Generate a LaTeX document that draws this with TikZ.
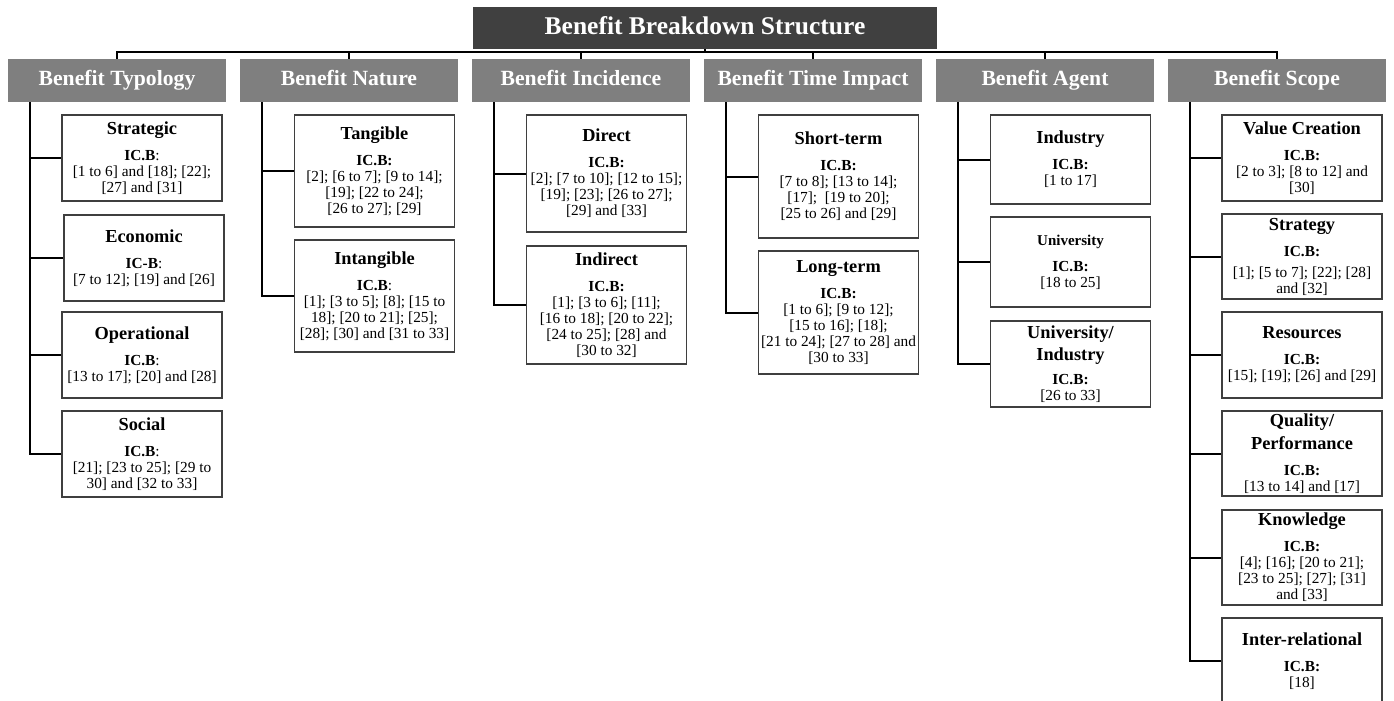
\documentclass[tikz,border=0pt]{standalone}
\usepackage{fontspec}
\setmainfont{Liberation Serif}

\definecolor{headgray}{HTML}{404040}
\definecolor{catgray}{HTML}{7F7F7F}
\definecolor{boxgray}{HTML}{3F3F3F}

\newcommand{\kt}[1]{{\fontsize{11}{12}\selectfont\bfseries #1}}
\newcommand{\icb}{\textbf{IC.B:}}
\newcommand{\icbc}{\textbf{IC.B}:}

\begin{document}
\begin{tikzpicture}[x=0.6pt,y=-0.6pt,
    head/.style={fill=headgray,text=white,font=\fontsize{15.3}{18}\selectfont\bfseries,
        minimum width=278.4pt,minimum height=25.2pt,inner sep=0pt,text height=10.5pt,text depth=3pt},
    cat/.style={fill=catgray,text=white,font=\fontsize{13}{15}\selectfont\bfseries,
        minimum width=130.8pt,minimum height=25.8pt,inner sep=0pt,text height=9pt,text depth=3pt},
    kid/.style={draw=boxgray,line width=1.1pt,align=center,font=\fontsize{9.2}{9.6}\selectfont,
        minimum width=96pt,minimum height=#1,inner sep=1pt},
    tie/.style={line width=1.2pt}]
    \useasboundingbox (0,0) rectangle (1394,700);

    \node[head] (bbs) at (705,28) {Benefit Breakdown Structure};

    \node[cat] (typ) at (117,80.5) {Benefit Typology};
    \node[cat] (nat) at (349,80.5) {Benefit Nature};
    \node[cat] (inc) at (581,80.5) {Benefit Incidence};
    \node[cat] (tim) at (813,80.5) {Benefit Time Impact};
    \node[cat] (age) at (1045,80.5) {Benefit Agent};
    \node[cat] (sco) at (1277,80.5) {Benefit Scope};

    % typology
    \node[kid=51.6pt] (strat) at (142,158) {\kt{Strategic}\\[6pt]\icbc\\\relax [1 to 6] and [18]; [22];\\\relax [27] and [31]};
    \node[kid=51.6pt] (econ) at (144,258) {\kt{Economic}\\[6pt]\textbf{IC-B}:\\\relax [7 to 12]; [19] and [26]};
    \node[kid=51.6pt] (oper) at (142,355) {\kt{Operational}\\[6pt]\icbc\\\relax [13 to 17]; [20] and [28]};
    \node[kid=51.6pt] (soc) at (142,454) {\kt{Social}\\[6pt]\icbc\\\relax [21]; [23 to 25]; [29 to\\ 30] and [32 to 33]};

    % nature
    \node[kid=67.2pt] (tang) at (374.5,171) {\kt{Tangible}\\[6pt]\icb\\\relax [2]; [6 to 7]; [9 to 14];\\\relax [19]; [22 to 24];\\\relax [26 to 27]; [29]};
    \node[kid=67.2pt] (intang) at (374.5,296) {\kt{Intangible}\\[6pt]\icbc\\\relax [1]; [3 to 5]; [8]; [15 to\\ 18]; [20 to 21]; [25];\\\relax [28]; [30] and [31 to 33]};

    % incidence
    \node[kid=70.2pt] (dir) at (606.5,173.5) {\kt{Direct}\\[6pt]\icb\\\relax [2]; [7 to 10]; [12 to 15];\\\relax [19]; [23]; [26 to 27];\\\relax [29] and [33]};
    \node[kid=70.8pt] (indir) at (606.5,305) {\kt{Indirect}\\[6pt]\icb\\\relax [1]; [3 to 6]; [11];\\\relax [16 to 18]; [20 to 22];\\\relax [24 to 25]; [28] and\\\relax [30 to 32]};

    % time impact
    \node[kid=73.8pt] (short) at (838.5,176.5) {\kt{Short-term}\\[6pt]\icb\\\relax [7 to 8]; [13 to 14];\\\relax [17];\ \ [19 to 20];\\\relax [25 to 26] and [29]};
    \node[kid=73.8pt] (long) at (838.5,312.5) {\kt{Long-term}\\[6pt]\icb\\\relax [1 to 6]; [9 to 12];\\\relax [15 to 16]; [18];\\\relax [21 to 24]; [27 to 28] and\\\relax [30 to 33]};

    % agent
    \node[kid=53.4pt] (ind) at (1070.5,159.5) {\kt{Industry}\\[6pt]\icb\\\relax [1 to 17]};
    \node[kid=54pt] (uni) at (1070.5,262) {{\fontsize{9}{10}\selectfont\bfseries University}\\[6pt]\icb\\\relax [18 to 25]};
    \node[kid=51.6pt] (uniind) at (1070.5,364) {\kt{University/}\\[2pt]\kt{Industry}\\[5pt]\icb\\\relax [26 to 33]};

    % scope
    \node[kid=51.6pt] (val) at (1302,158) {\kt{Value Creation}\\[6pt]\icb\\\relax [2 to 3]; [8 to 12] and\\\relax [30]};
    \node[kid=51pt] (strg) at (1302,256.5) {\kt{Strategy}\\[6pt]\icb\\[3pt]\relax [1]; [5 to 7]; [22]; [28]\\ and [32]};
    \node[kid=51.6pt] (res) at (1302,355) {\kt{Resources}\\[6pt]\icb\\\relax [15]; [19]; [26] and [29]};
    \node[kid=51pt] (qual) at (1302,453.5) {\kt{Quality/}\\[3pt]\kt{Performance}\\[6pt]\icb\\\relax [13 to 14] and [17]};
    \node[kid=57pt] (know) at (1302,557.5) {\kt{Knowledge}\\[6pt]\icb\\\relax [4]; [16]; [20 to 21];\\\relax [23 to 25]; [27]; [31]\\ and [33]};
    \node[kid=51.6pt] (inter) at (1302,661) {\kt{Inter-relational}\\[6pt]\icb\\\relax [18]};

    % bus
    \coordinate (bus) at (705,52);
    \draw[tie] (bbs) -- (bus);
    \foreach \c in {typ,nat,inc,tim,age,sco}
        \draw[tie] (bus) -| (\c);

    % spines
    \foreach \k in {strat,econ,oper,soc}
        \draw[tie] ([xshift=13.2pt]typ.south west) |- (\k);
    \foreach \k in {tang,intang}
        \draw[tie] ([xshift=13.2pt]nat.south west) |- (\k);
    \foreach \k in {dir,indir}
        \draw[tie] ([xshift=13.2pt]inc.south west) |- (\k);
    \foreach \k in {short,long}
        \draw[tie] ([xshift=13.2pt]tim.south west) |- (\k);
    \foreach \k in {ind,uni,uniind}
        \draw[tie] ([xshift=13.2pt]age.south west) |- (\k);
    \foreach \k in {val,strg,res,qual,know,inter}
        \draw[tie] ([xshift=13.2pt]sco.south west) |- (\k);
\end{tikzpicture}
\end{document}
